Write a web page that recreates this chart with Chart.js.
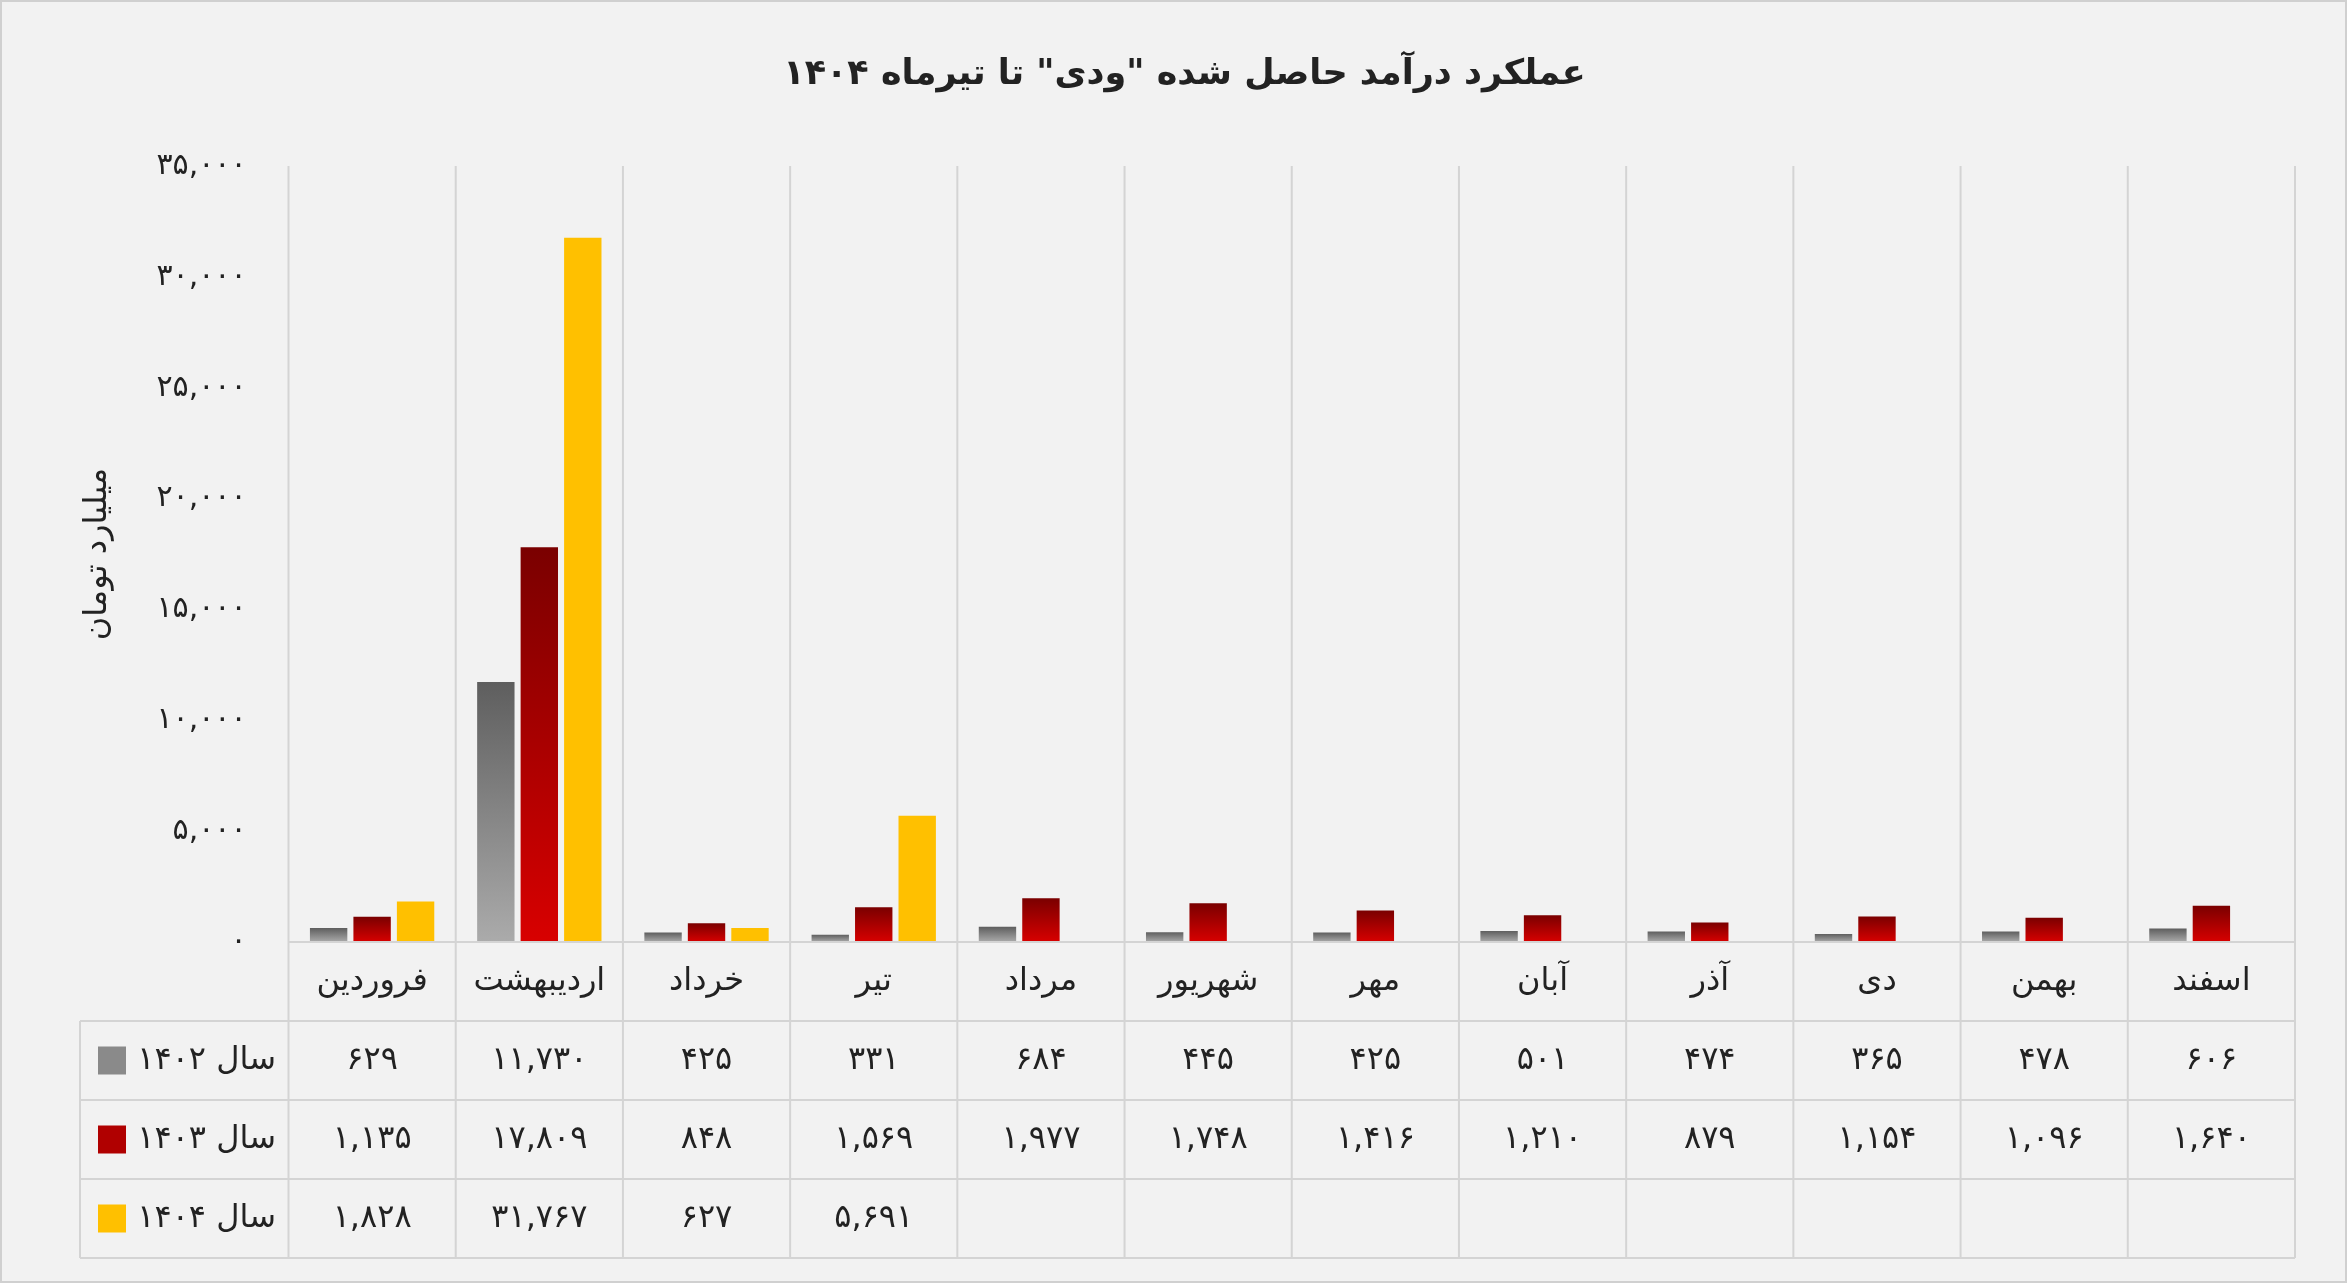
<!DOCTYPE html>
<html><head><meta charset="utf-8">
<script src="https://cdn.jsdelivr.net/npm/chart.js@4"></script>
<style>
html,body{margin:0;padding:0;background:#f2f2f2;}
#wrap{width:2347px;height:1283px;position:relative;box-sizing:border-box;border:2px solid #d0d0d0;}
</style></head>
<body><div id="wrap"><canvas id="c" width="2343" height="1279"></canvas></div>
<script>
const months = ['فروردین','اردیبهشت','خرداد','تیر','مرداد','شهریور','مهر','آبان','آذر','دی','بهمن','اسفند'];
const y1402 = [629, 11730, 425, 331, 684, 445, 425, 501, 474, 365, 478, 606];
const y1403 = [1135, 17809, 848, 1569, 1977, 1748, 1416, 1210, 879, 1154, 1096, 1640];
const y1404 = [1828, 31767, 627, 5691, null, null, null, null, null, null, null, null];
const seriesNames = ['سال ۱۴۰۲', 'سال ۱۴۰۳', 'سال ۱۴۰۴'];
const yTicks = [0, 5000, 10000, 15000, 20000, 25000, 30000, 35000];

function fa(n) {
   const s = n.toLocaleString('en-US');
   return s.replace(/[0-9]/g, d => '۰۱۲۳۴۵۶۷۸۹'[d]);
}

// gradient per bar: from its top down to the baseline
function grad(ctx, top, bottom) {
   const area = ctx.chart.chartArea;
   if (!area || !ctx.parsed || ctx.parsed.y == null) return bottom;
   const yTop = ctx.chart.scales.y.getPixelForValue(ctx.parsed.y);
   const g = ctx.chart.ctx.createLinearGradient(0, yTop, 0, area.bottom);
   g.addColorStop(0, top);
   g.addColorStop(1, bottom);
   return g;
}

const FONT = '"DejaVu Sans", sans-serif';
const swatches = ['#8a8a8a', '#b00000', '#ffc000'];

const tablePlugin = {
   id: 'table',
   afterDraw(chart) {
      const c = chart.ctx, x = chart.scales.x, area = chart.chartArea;
      const rowH = 79, left = 78, top = area.bottom;
      const n = months.length;
      const step = (area.right - area.left) / n;
      c.save();
      c.strokeStyle = '#d4d4d4';
      c.lineWidth = 2;
      c.beginPath();
      c.moveTo(area.left, top); c.lineTo(area.right, top);
      for (let r = 1; r <= 4; r++) {
         c.moveTo(left, top + r * rowH); c.lineTo(area.right, top + r * rowH);
      }
      for (let i = 0; i <= n; i++) {
         const xx = area.left + i * step;
         c.moveTo(xx, area.top); c.lineTo(xx, top + 4 * rowH);
      }
      c.moveTo(left, top + rowH); c.lineTo(left, top + 4 * rowH);
      c.stroke();
      c.fillStyle = '#222';
      c.textAlign = 'center';
      c.textBaseline = 'middle';
      c.font = '32px ' + FONT;
      const rows = [y1402, y1403, y1404];
      for (let i = 0; i < n; i++) {
         const cx = x.getPixelForValue(i);
         c.fillText(months[i], cx, top + rowH / 2);
         rows.forEach((arr, r) => {
            if (arr[i] != null) c.fillText(fa(arr[i]), cx, top + (r + 1.5) * rowH);
         });
      }
      c.textAlign = 'right';
      seriesNames.forEach((name, r) => {
         const cy = top + (r + 1.5) * rowH;
         c.fillStyle = '#222';
         c.fillText(name, 274, cy);
         c.fillStyle = swatches[r];
         c.fillRect(96, cy - 14, 28, 28);
      });
      c.restore();
   }
};

new Chart(document.getElementById('c'), {
   type: 'bar',
   data: {
      labels: months,
      datasets: [
         { label: seriesNames[0], data: y1402, backgroundColor: ctx => grad(ctx, '#5e5e5e', '#ababab') },
         { label: seriesNames[1], data: y1403, backgroundColor: ctx => grad(ctx, '#7a0000', '#d80000') },
         { label: seriesNames[2], data: y1404, backgroundColor: '#ffc000' }
      ]
   },
   plugins: [tablePlugin],
   options: {
      responsive: false,
      animation: false,
      datasets: { bar: { categoryPercentage: 0.78, barPercentage: 0.86 } },
      layout: { padding: { left: 72, right: 50, top: 10, bottom: 331 } },
      scales: {
         x: {
            grid: { display: false },
            border: { display: false },
            ticks: { display: false }
         },
         y: {
            min: 0, max: 35000,
            afterBuildTicks: axis => { axis.ticks = yTicks.map(v => ({ value: v })); },
            grid: { display: false },
            border: { display: false },
            ticks: { callback: v => fa(v), font: { size: 30, family: FONT }, color: '#222', padding: 34 },
            title: { display: true, text: 'میلیارد تومان', font: { size: 32, family: FONT }, color: '#222', padding: { bottom: 6 } }
         }
      },
      plugins: {
         legend: { display: false },
         tooltip: { enabled: false },
         title: {
            display: true, text: 'عملکرد درآمد حاصل شده "ودی" تا تیرماه ۱۴۰۴',
            font: { size: 35, weight: 'bold', family: FONT }, color: '#222', padding: { top: 42, bottom: 70 }
         }
      }
   }
});
</script></body></html>
